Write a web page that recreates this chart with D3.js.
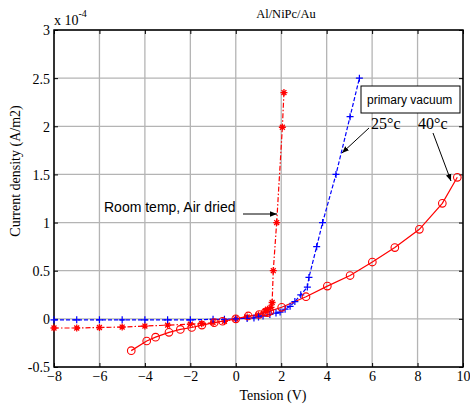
<!DOCTYPE html>
<html><head><meta charset="utf-8">
<script src="https://cdn.jsdelivr.net/npm/d3@7"></script>
<style>body{margin:0;background:#fff}svg{display:block}</style>
</head><body><svg id="c" width="470" height="405"></svg>
<script>
const xTicks = [-8,-6,-4,-2,0,2,4,6,8,10];
const yTicks = [-0.5,0,0.5,1,1.5,2,2.5,3];
const yTickLabels = ["-0.5","0","0.5","1","1.5","2","2.5","3"];

const roomX = [-8,-7,-6,-5,-4,-3,-2,-1.5,-1,-0.5,0,0.5,1,1.3,1.4,1.55,1.6,1.65,1.8,2.05,2.12];
const roomY = [-0.095,-0.095,-0.09,-0.085,-0.075,-0.065,-0.055,-0.05,-0.04,-0.025,0,0.02,0.04,0.08,0.1,0.12,0.17,0.5,1.0,1.99,2.35];

const vacX = [-8,-7,-6,-5,-4,-3,-2,-1,-0.5,0,0.5,0.8,1.0,1.2,1.5,1.77,1.95,2.17,2.39,2.6,2.86,3.15,3.22,3.56,3.82,4.41,5.03,5.44];
const vacY = [-0.01,-0.01,-0.01,-0.01,-0.01,-0.01,-0.01,-0.005,-0.005,0,0.005,0.01,0.02,0.03,0.045,0.06,0.07,0.1,0.13,0.18,0.25,0.33,0.43,0.75,1.0,1.5,2.1,2.5];

const t40X = [-4.6,-3.92,-3.53,-2.94,-2.44,-1.94,-1.49,-0.95,-0.58,0,0.55,1.03,1.3,1.4,1.5,2.02,3.09,4.03,5.03,6.01,7.0,8.08,9.09,9.75];
const t40Y = [-0.33,-0.23,-0.19,-0.14,-0.11,-0.09,-0.065,-0.04,-0.025,0,0.03,0.045,0.07,0.065,0.08,0.12,0.23,0.34,0.45,0.59,0.74,0.93,1.2,1.47];

const svg = d3.select("#c");
const L=54, R=463, T=30, B=367;
const x = d3.scaleLinear().domain([-8,10]).range([L,R]);
const y = d3.scaleLinear().domain([-0.5,3]).range([B,T]);

const defs = svg.append("defs");
defs.append("marker").attr("id","arr").attr("viewBox","0 0 10 10").attr("refX",10).attr("refY",5)
  .attr("markerWidth",7).attr("markerHeight",7).attr("orient","auto-start-reverse")
  .append("path").attr("d","M0,1 L10,5 L0,9 Z").attr("fill","#000");
defs.append("clipPath").attr("id","clip").append("rect").attr("x",L).attr("y",T).attr("width",R-L).attr("height",B-T);

// grid
const g = svg.append("g");
g.selectAll(".gx").data(xTicks).join("line").attr("x1",d=>x(d)).attr("x2",d=>x(d)).attr("y1",T).attr("y2",B)
  .attr("stroke","#b4b4b4").attr("stroke-width",1.3);
g.selectAll(".gy").data(yTicks).join("line").attr("y1",d=>y(d)).attr("y2",d=>y(d)).attr("x1",L).attr("x2",R)
  .attr("stroke","#b4b4b4").attr("stroke-width",1.3);

// axes (ticks inward)
const tf = "Liberation Serif, Times New Roman, serif";
const ax = svg.append("g").attr("transform",`translate(0,${B})`).call(d3.axisBottom(x).tickValues(xTicks).tickSize(-4).tickPadding(4));
const axT = svg.append("g").attr("transform",`translate(0,${T})`).call(d3.axisTop(x).tickValues(xTicks).tickSize(-4).tickFormat(""));
const ay = svg.append("g").attr("transform",`translate(${L},0)`).call(d3.axisLeft(y).tickValues(yTicks).tickSize(-4).tickPadding(4).tickFormat((d,i)=>yTickLabels[i]));
const ayR = svg.append("g").attr("transform",`translate(${R},0)`).call(d3.axisRight(y).tickValues(yTicks).tickSize(-4).tickFormat(""));
[ax,axT,ay,ayR].forEach(a=>{a.select(".domain").remove(); a.attr("font-family",tf).attr("font-size",14);
  a.selectAll("line").attr("stroke","#000");
  a.selectAll("text").style("font-family",tf).style("font-size","14px").attr("fill","#000");});
ay.selectAll("text").attr("dy","0.35em");
svg.append("rect").attr("x",L).attr("y",T).attr("width",R-L).attr("height",B-T).attr("fill","none").attr("stroke","#000").attr("stroke-width",1.5);

// series
const plot = svg.append("g").attr("clip-path","url(#clip)");
function series(xs, ys, color, dash){
  const pts = xs.map((v,i)=>[v,ys[i]]);
  plot.append("path").datum(pts).attr("fill","none").attr("stroke",color).attr("stroke-width",1.2)
    .attr("stroke-dasharray",dash).attr("d",d3.line().x(d=>x(d[0])).y(d=>y(d[1])));
  return pts;
}
const rp = series(roomX, roomY, "#ff0000", "5,2,1.5,2");
const vp = series(vacX, vacY, "#0000ff", "4,2");
const tp = series(t40X, t40Y, "#ff0000", null);

// markers
const mg = svg.append("g");
rp.forEach(d=>{
  const cx=x(d[0]), cy=y(d[1]), s=3.5;
  mg.append("path").attr("d",`M${cx-s},${cy}H${cx+s}M${cx},${cy-s}V${cy+s}M${cx-s*0.7},${cy-s*0.7}L${cx+s*0.7},${cy+s*0.7}M${cx-s*0.7},${cy+s*0.7}L${cx+s*0.7},${cy-s*0.7}`)
    .attr("stroke","#ff0000").attr("stroke-width",1.3);
});
vp.forEach(d=>{
  const cx=x(d[0]), cy=y(d[1]), s=3.5;
  mg.append("path").attr("d",`M${cx-s},${cy}H${cx+s}M${cx},${cy-s}V${cy+s}`).attr("stroke","#0000ff").attr("stroke-width",1.2);
});
tp.forEach(d=>{
  mg.append("circle").attr("cx",x(d[0])).attr("cy",y(d[1])).attr("r",3.8).attr("fill","none").attr("stroke","#ff0000").attr("stroke-width",1.1);
});

// texts
svg.append("text").attr("x",286).attr("y",18).attr("text-anchor","middle").attr("font-family",tf).attr("font-size",12.5).text("Al/NiPc/Au");
const ex = svg.append("text").attr("x",54).attr("y",25).attr("font-family",tf).attr("font-size",14);
ex.append("tspan").text("x 10");
ex.append("tspan").attr("dy",-8).attr("font-size",10).text("-4");
svg.append("text").attr("x",273).attr("y",400).attr("text-anchor","middle").attr("font-family",tf).attr("font-size",14).text("Tension (V)");
svg.append("text").attr("transform","translate(20,171) rotate(-90)").attr("text-anchor","middle").attr("font-family",tf).attr("font-size",14).text("Current density (A/m2)");

const af = "Arial, Liberation Sans, sans-serif";
svg.append("text").attr("x",104).attr("y",212).attr("font-family",af).attr("font-size",14).text("Room temp, Air dried");
svg.append("line").attr("x1",243).attr("y1",214).attr("x2",277).attr("y2",214).attr("stroke","#000").attr("stroke-width",1).attr("marker-end","url(#arr)");

svg.append("rect").attr("x",361).attr("y",86).attr("width",99).attr("height",27).attr("fill","#fff").attr("stroke","#000").attr("stroke-width",1);
svg.append("text").attr("x",367).attr("y",104).attr("font-family",af).attr("font-size",12).text("primary vacuum");

svg.append("text").attr("x",371).attr("y",129).attr("font-family",tf).attr("font-size",16).text("25°c");
svg.append("line").attr("x1",369).attr("y1",128).attr("x2",342).attr("y2",153).attr("stroke","#000").attr("stroke-width",1).attr("marker-end","url(#arr)");
svg.append("text").attr("x",418).attr("y",129).attr("font-family",tf).attr("font-size",16).text("40°c");
svg.append("line").attr("x1",433).attr("y1",133).attr("x2",451).attr("y2",181).attr("stroke","#000").attr("stroke-width",1).attr("marker-end","url(#arr)");
</script></body></html>
